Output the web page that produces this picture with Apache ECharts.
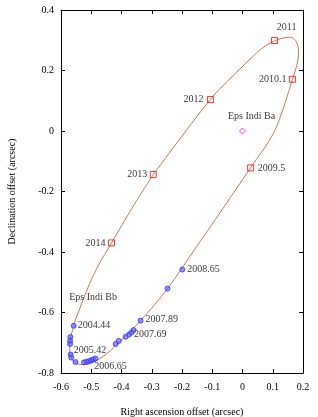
<!DOCTYPE html>
<html><head><meta charset="utf-8">
<script src="https://cdn.jsdelivr.net/npm/echarts@6/dist/echarts.min.js"></script>
<style>html,body{margin:0;padding:0;background:#fff}#c{width:318px;height:417px}</style>
</head><body><div id="c"></div>
<script>
// Fitted orbit of Eps Indi Bb relative to Ba
const orbitPts = [[-0.295,-0.144],[-0.362,-0.25],[-0.433,-0.37],[-0.49,-0.471],
  [-0.549,-0.615],[-0.558,-0.644],[-0.569,-0.69],[-0.571,-0.724],[-0.566,-0.751],[-0.549,-0.768],
  [-0.527,-0.772],[-0.494,-0.764],[-0.45,-0.737],[-0.417,-0.707],[-0.337,-0.627],[-0.246,-0.518],
  [-0.164,-0.40],[-0.064,-0.255],[0.027,-0.121],[0.096,-0.019],[0.125,0.047],[0.165,0.171],
  [0.183,0.235],[0.185,0.268],[0.18,0.29],[0.172,0.303],[0.156,0.31],[0.134,0.307],[0.106,0.298],
  [0.064,0.273],[0.031,0.243],[-0.049,0.165],[-0.106,0.105],[-0.295,-0.144]];

// Predicted positions (red squares)
const predPts = [[0.027,-0.122],[0.165,0.171],[0.106,0.299],[-0.106,0.104],[-0.295,-0.144],[-0.433,-0.37]];
const predLabels = ['2009.5','2010.1','2011','2012','2013','2014'];

// Observed positions (blue)
const obsPts = [[-0.558,-0.644],[-0.569,-0.681],[-0.570,-0.694],[-0.570,-0.704],[-0.568,-0.739],
  [-0.566,-0.749],[-0.552,-0.764],[-0.524,-0.765],[-0.516,-0.763],[-0.508,-0.761],[-0.500,-0.758],
  [-0.493,-0.755],[-0.486,-0.752],[-0.419,-0.704],[-0.409,-0.694],[-0.386,-0.680],[-0.375,-0.673],
  [-0.367,-0.666],[-0.360,-0.658],[-0.337,-0.627],[-0.248,-0.521],[-0.199,-0.458]];
const obsLabels = ['2004.44','','','','2005.42','','','','','','','2006.65','','','','','2007.69','','','2007.89','','2008.65'];

// Primary (Eps Indi Ba)
const primaryPt = [0, 0];
const primaryName = 'Eps Indi Ba';
// Free annotation
const noteText = 'Eps Indi Bb';
const notePt = [-0.494, -0.55];

const xRange = [-0.6, 0.2], xStep = 0.1;
const yRange = [-0.8, 0.4], yStep = 0.2;

const FONT = 'Liberation Serif';
const predLabelStyle = {
  '2009.5': {align:'left', offset:[7,0]},
  '2010.1': {align:'right', offset:[-6,0]},
  '2011': {align:'center', offset:[12,-13]},
  '2012': {align:'right', offset:[-7,0]},
  '2013': {align:'right', offset:[-6,0]},
  '2014': {align:'right', offset:[-6,0]}
};
const obsLabelStyle = {
  '2004.44': {align:'left', offset:[4,0]},
  '2005.42': {align:'left', offset:[3,-4]},
  '2006.65': {align:'left', offset:[1,7]},
  '2007.69': {align:'left', offset:[5,0]},
  '2007.89': {align:'left', offset:[5,-1]},
  '2008.65': {align:'left', offset:[5,0]}
};
function lbl(text, st) {
  if (!text) return {show:false};
  return {show:true, formatter:text, position:'inside', align:st.align, verticalAlign:'middle',
    offset:st.offset, color:'#000', fontFamily:FONT, fontSize:10};
}

const chart = echarts.init(document.getElementById('c'), null, {renderer:'canvas'});
const axisCommon = {
  type:'value', splitLine:{show:false},
  axisLine:{show:true, onZero:false, lineStyle:{color:'#000', width:1}},
  axisTick:{show:true, inside:true, length:4, lineStyle:{color:'#000'}},
  axisLabel:{color:'#000', fontFamily:FONT, fontSize:10}
};
chart.setOption({
  animation:false,
  backgroundColor:'#fff',
  grid:{left:61, top:10, width:242, height:363, containLabel:false, outerBoundsMode:'none'},
  xAxis:[
    Object.assign({}, axisCommon, {position:'bottom', min:xRange[0], max:xRange[1], interval:xStep,
      name:'Right ascension offset (arcsec)', nameLocation:'middle', nameGap:34,
      nameTextStyle:{color:'#000', fontFamily:FONT, fontSize:10},
      axisLabel:Object.assign({}, axisCommon.axisLabel, {margin:9})}),
    Object.assign({}, axisCommon, {position:'top', min:xRange[0], max:xRange[1], interval:xStep,
      axisLabel:{show:false}})
  ],
  yAxis:[
    Object.assign({}, axisCommon, {position:'left', min:yRange[0], max:yRange[1], interval:yStep,
      name:'Declination offset (arcsec)', nameLocation:'middle', nameGap:44,
      nameTextStyle:{color:'#000', fontFamily:FONT, fontSize:10},
      axisLabel:Object.assign({}, axisCommon.axisLabel, {margin:7})}),
    Object.assign({}, axisCommon, {position:'right', min:yRange[0], max:yRange[1], interval:yStep,
      axisLabel:{show:false}})
  ],
  series:[
    {type:'line', data:orbitPts, smooth:0.4, showSymbol:false, silent:true,
      lineStyle:{color:'#c07a55', width:1}, z:1},
    {type:'scatter', data:obsPts.map((p,i)=>({value:p, label:lbl(obsLabels[i], obsLabelStyle[obsLabels[i]]||{})})),
      symbol:'circle', symbolSize:5,
      itemStyle:{color:'rgba(100,100,255,0.85)', borderColor:'#3030ff', borderWidth:1}, z:3},
    {type:'scatter', data:predPts.map((p,i)=>({value:p, label:lbl(predLabels[i], predLabelStyle[predLabels[i]])})),
      symbol:'rect', symbolSize:6,
      itemStyle:{color:'rgba(255,255,255,0)', borderColor:'#ff0000', borderWidth:1}, z:4},
    {type:'scatter', data:[{value:primaryPt, label:lbl(primaryName, {align:'center', offset:[9,-15]})}],
      symbol:'diamond', symbolSize:6,
      itemStyle:{color:'rgba(255,255,255,0)', borderColor:'#ff00ff', borderWidth:1}, z:4},
    {type:'scatter', data:[{value:notePt, label:lbl(noteText, {align:'center', offset:[0,0]})}],
      symbol:'circle', symbolSize:1, silent:true,
      itemStyle:{color:'rgba(0,0,0,0)'}, z:5}
  ]
});
</script>
</body></html>
